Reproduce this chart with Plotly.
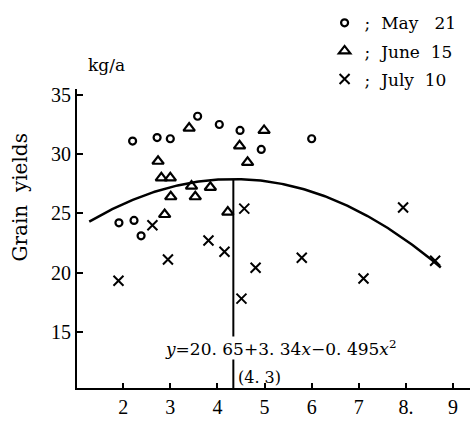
import numpy as np
import plotly.graph_objects as go

# Observations per transplanting date: plant density (x) vs grain yield (kg/a)
may_x = [2.20, 2.72, 3.00, 3.58, 4.04, 4.48, 4.93, 6.00, 1.91, 2.23, 2.38]
may_y = [31.1, 31.4, 31.3, 33.2, 32.5, 32.0, 30.4, 31.3, 24.2, 24.4, 23.1]

june_x = [3.40, 2.74, 2.81, 3.00, 3.45, 3.85, 3.01, 3.53, 4.99, 4.47, 4.64, 2.88, 4.22]
june_y = [32.2, 29.4, 28.0, 28.0, 27.3, 27.2, 26.4, 26.4, 32.0, 30.7, 29.3, 24.9, 25.1]

july_x = [2.62, 2.95, 1.90, 3.81, 4.15, 4.57, 4.81, 5.79, 4.51, 7.94, 7.10, 8.62]
july_y = [24.0, 21.1, 19.3, 22.7, 21.75, 25.4, 20.4, 21.25, 17.8, 25.5, 19.5, 21.0]

# Fitted quadratic y = c0 + c1*x + c2*x^2 and its plotted span
coef = [20.65, 3.34, -0.385]
fit_span = [1.28, 8.74]

x_ticks = [2, 3, 4, 5, 6, 7, 8, 9]
x_ticktext = ["2", "3", "4", "5", "6", "7", "8.", "9"]
y_ticks = [15, 20, 25, 30, 35]

serif = "Liberation Serif, DejaVu Serif, serif"
wide_serif = "DejaVu Serif, Liberation Serif, serif"
sp = "\u00a0"

xf = np.linspace(fit_span[0], fit_span[1], 200)
yf = coef[0] + coef[1] * xf + coef[2] * xf ** 2
x_peak = -coef[1] / (2 * coef[2])
y_peak = coef[0] + coef[1] * x_peak + coef[2] * x_peak ** 2

fig = go.Figure()

fig.add_trace(go.Scatter(
    x=xf, y=yf, mode="lines", line=dict(color="black", width=2.5),
    showlegend=False, hoverinfo="skip"))

fig.add_trace(go.Scatter(
    x=[x_peak, x_peak], y=[10.25, y_peak], mode="lines",
    line=dict(color="black", width=2), showlegend=False, hoverinfo="skip"))

fig.add_trace(go.Scatter(
    x=may_x, y=may_y, mode="markers", name=f";{sp}{sp}May{sp}{sp}{sp}21", legendgroup="a",
    marker=dict(symbol="circle-open", size=7, color="black", line=dict(width=2.2))))
fig.add_trace(go.Scatter(
    x=june_x, y=june_y, mode="markers", name=f";{sp}{sp}June{sp}{sp}15", legendgroup="b",
    marker=dict(symbol="triangle-up-open", size=10, color="black", line=dict(width=2.2))))
fig.add_trace(go.Scatter(
    x=july_x, y=july_y, mode="markers", name=f";{sp}{sp}July{sp}{sp}10", legendgroup="c",
    marker=dict(symbol="x-thin", size=10, color="black", line=dict(width=2, color="black"))))

fig.add_annotation(
    x=5.34, y=13.67, xref="x", yref="y",
    text=f"<i>y</i>=20.{sp}65+3.{sp}34<i>x</i>−0.{sp}495<i>x</i><sup>2</sup>",
    showarrow=False, bgcolor="white", borderpad=0,
    font=dict(family=wide_serif, size=17, color="black"))
fig.add_annotation(
    x=x_peak + 0.05, y=11.1, xref="x", yref="y", xanchor="left",
    text=f"(4.{sp}3)", showarrow=False, font=dict(family=wide_serif, size=16, color="black"))
fig.add_annotation(
    x=(106 - 77) / 393, y=1 + (85 - 61) / 303, xref="paper", yref="paper",
    xanchor="center", yanchor="middle", showarrow=False,
    text="kg/a", font=dict(family=wide_serif, size=17, color="black"))
fig.add_annotation(
    x=(20 - 77) / 393, y=0.637, xref="paper", yref="paper",
    xanchor="center", yanchor="middle", showarrow=False, textangle=-90,
    text=f"Grain{sp}{sp}yields", font=dict(family=wide_serif, size=20, color="black"))

fig.update_layout(
    width=475, height=425,
    margin=dict(l=77, r=5, t=85, b=37),
    paper_bgcolor="white", plot_bgcolor="white",
    font=dict(family=serif, size=20, color="black"),
    legend=dict(x=0.63, y=1.28, xanchor="left", yanchor="top",
                font=dict(family=wide_serif, size=17, color="black"),
                tracegroupgap=3, bgcolor="rgba(0,0,0,0)"),
    xaxis=dict(range=[1.02, 9.36], tickvals=x_ticks, ticktext=x_ticktext,
               ticks="inside", ticklen=5, tickwidth=1.5, tickcolor="black",
               showline=True, linecolor="black", linewidth=1.5,
               showgrid=False, zeroline=False),
    yaxis=dict(range=[10.25, 35.5], tickvals=y_ticks,
               ticks="inside", ticklen=6, tickwidth=1.5, tickcolor="black",
               showline=True, linecolor="black", linewidth=2,
               showgrid=False, zeroline=False),
)

fig.write_html("out.html")
